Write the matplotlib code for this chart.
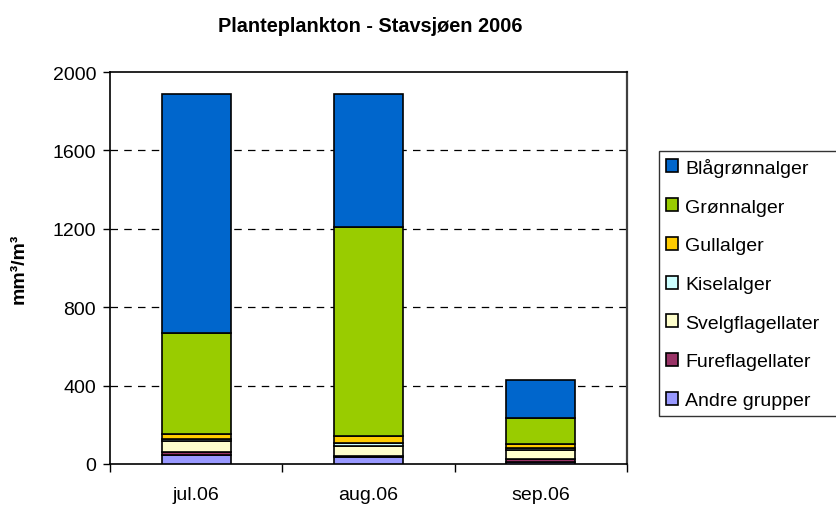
import numpy as np
import matplotlib
matplotlib.use("Agg")
import matplotlib.pyplot as plt

plt.rcParams['font.family'] = ['Liberation Sans', 'DejaVu Sans']

months = ["jul.06", "aug.06", "sep.06"]

# stacked bottom to top
andre = [46, 35, 12]
fure = [15, 8, 15]
svelg = [55, 50, 45]
kisel = [12, 15, 8]
gull = [27, 37, 22]
gronn = [515, 1065, 135]
blagronn = [1220, 680, 190]

groups = ["Andre grupper", "Fureflagellater", "Svelgflagellater", "Kiselalger",
          "Gullalger", "Grønnalger", "Blågrønnalger"]
series = [andre, fure, svelg, kisel, gull, gronn, blagronn]
colors = ["#9999FF", "#993366", "#FFFFCC", "#CCFFFF", "#FFCC00", "#99CC00", "#0066CC"]

fig = plt.figure(figsize=(8.37, 5.06), dpi=100)
ax = fig.add_axes([110/837, 1 - 465/506, (627 - 110)/837, (465 - 73)/506])

x = np.arange(len(months))
bottom = np.zeros(len(months))
handles = []
for name, vals, c in zip(groups, series, colors):
    b = ax.bar(x, vals, width=0.4, bottom=bottom, color=c, edgecolor="black",
               linewidth=1.2, label=name, zorder=3)
    handles.append(b)
    bottom += np.array(vals)

ax.set_xlim(-0.5, 2.5)
ax.set_ylim(0, 2000)
ax.set_yticks([0, 400, 800, 1200, 1600, 2000])
for yv in [400, 800, 1200, 1600]:
    ax.axhline(yv, color="black", linestyle=(0, (6, 5)), linewidth=0.9, zorder=1)

ax.set_xticks(x)
ax.set_xticklabels(months, fontsize=14)
ax.set_xticks([-0.5, 0.5, 1.5, 2.5], minor=True)
ax.tick_params(axis="x", which="major", length=0, pad=16)
ax.tick_params(axis="x", which="minor", length=6, width=1, direction="out")
ax.tick_params(axis="y", length=5, width=1, direction="out", labelsize=14, pad=5)

for s in ["left", "bottom", "top"]:
    ax.spines[s].set_color("black")
    ax.spines[s].set_linewidth(1.2)
ax.spines["right"].set_color("#404040")
ax.spines["right"].set_linewidth(1.6)

ax.set_ylabel("mm³/m³", fontsize=14, fontweight="bold", labelpad=18)
fig.text(370/837, 1 - 27/506, "Planteplankton - Stavsjøen 2006", ha="center", va="center",
         fontsize=14.3, fontweight="bold")

# legend box runs off the right edge like in the original
leg = fig.legend(handles[::-1], groups[::-1], loc="upper left", mode="expand",
                 bbox_to_anchor=(659/837, 1 - 152/506, 0.23, 0), fontsize=14, frameon=True,
                 fancybox=False, edgecolor="black", handlelength=0.65, handleheight=0.65,
                 handletextpad=0.35, labelspacing=1.1, borderpad=0.35, borderaxespad=0)
leg.get_frame().set_linewidth(1.0)

fig.savefig("out.png", dpi=100)
